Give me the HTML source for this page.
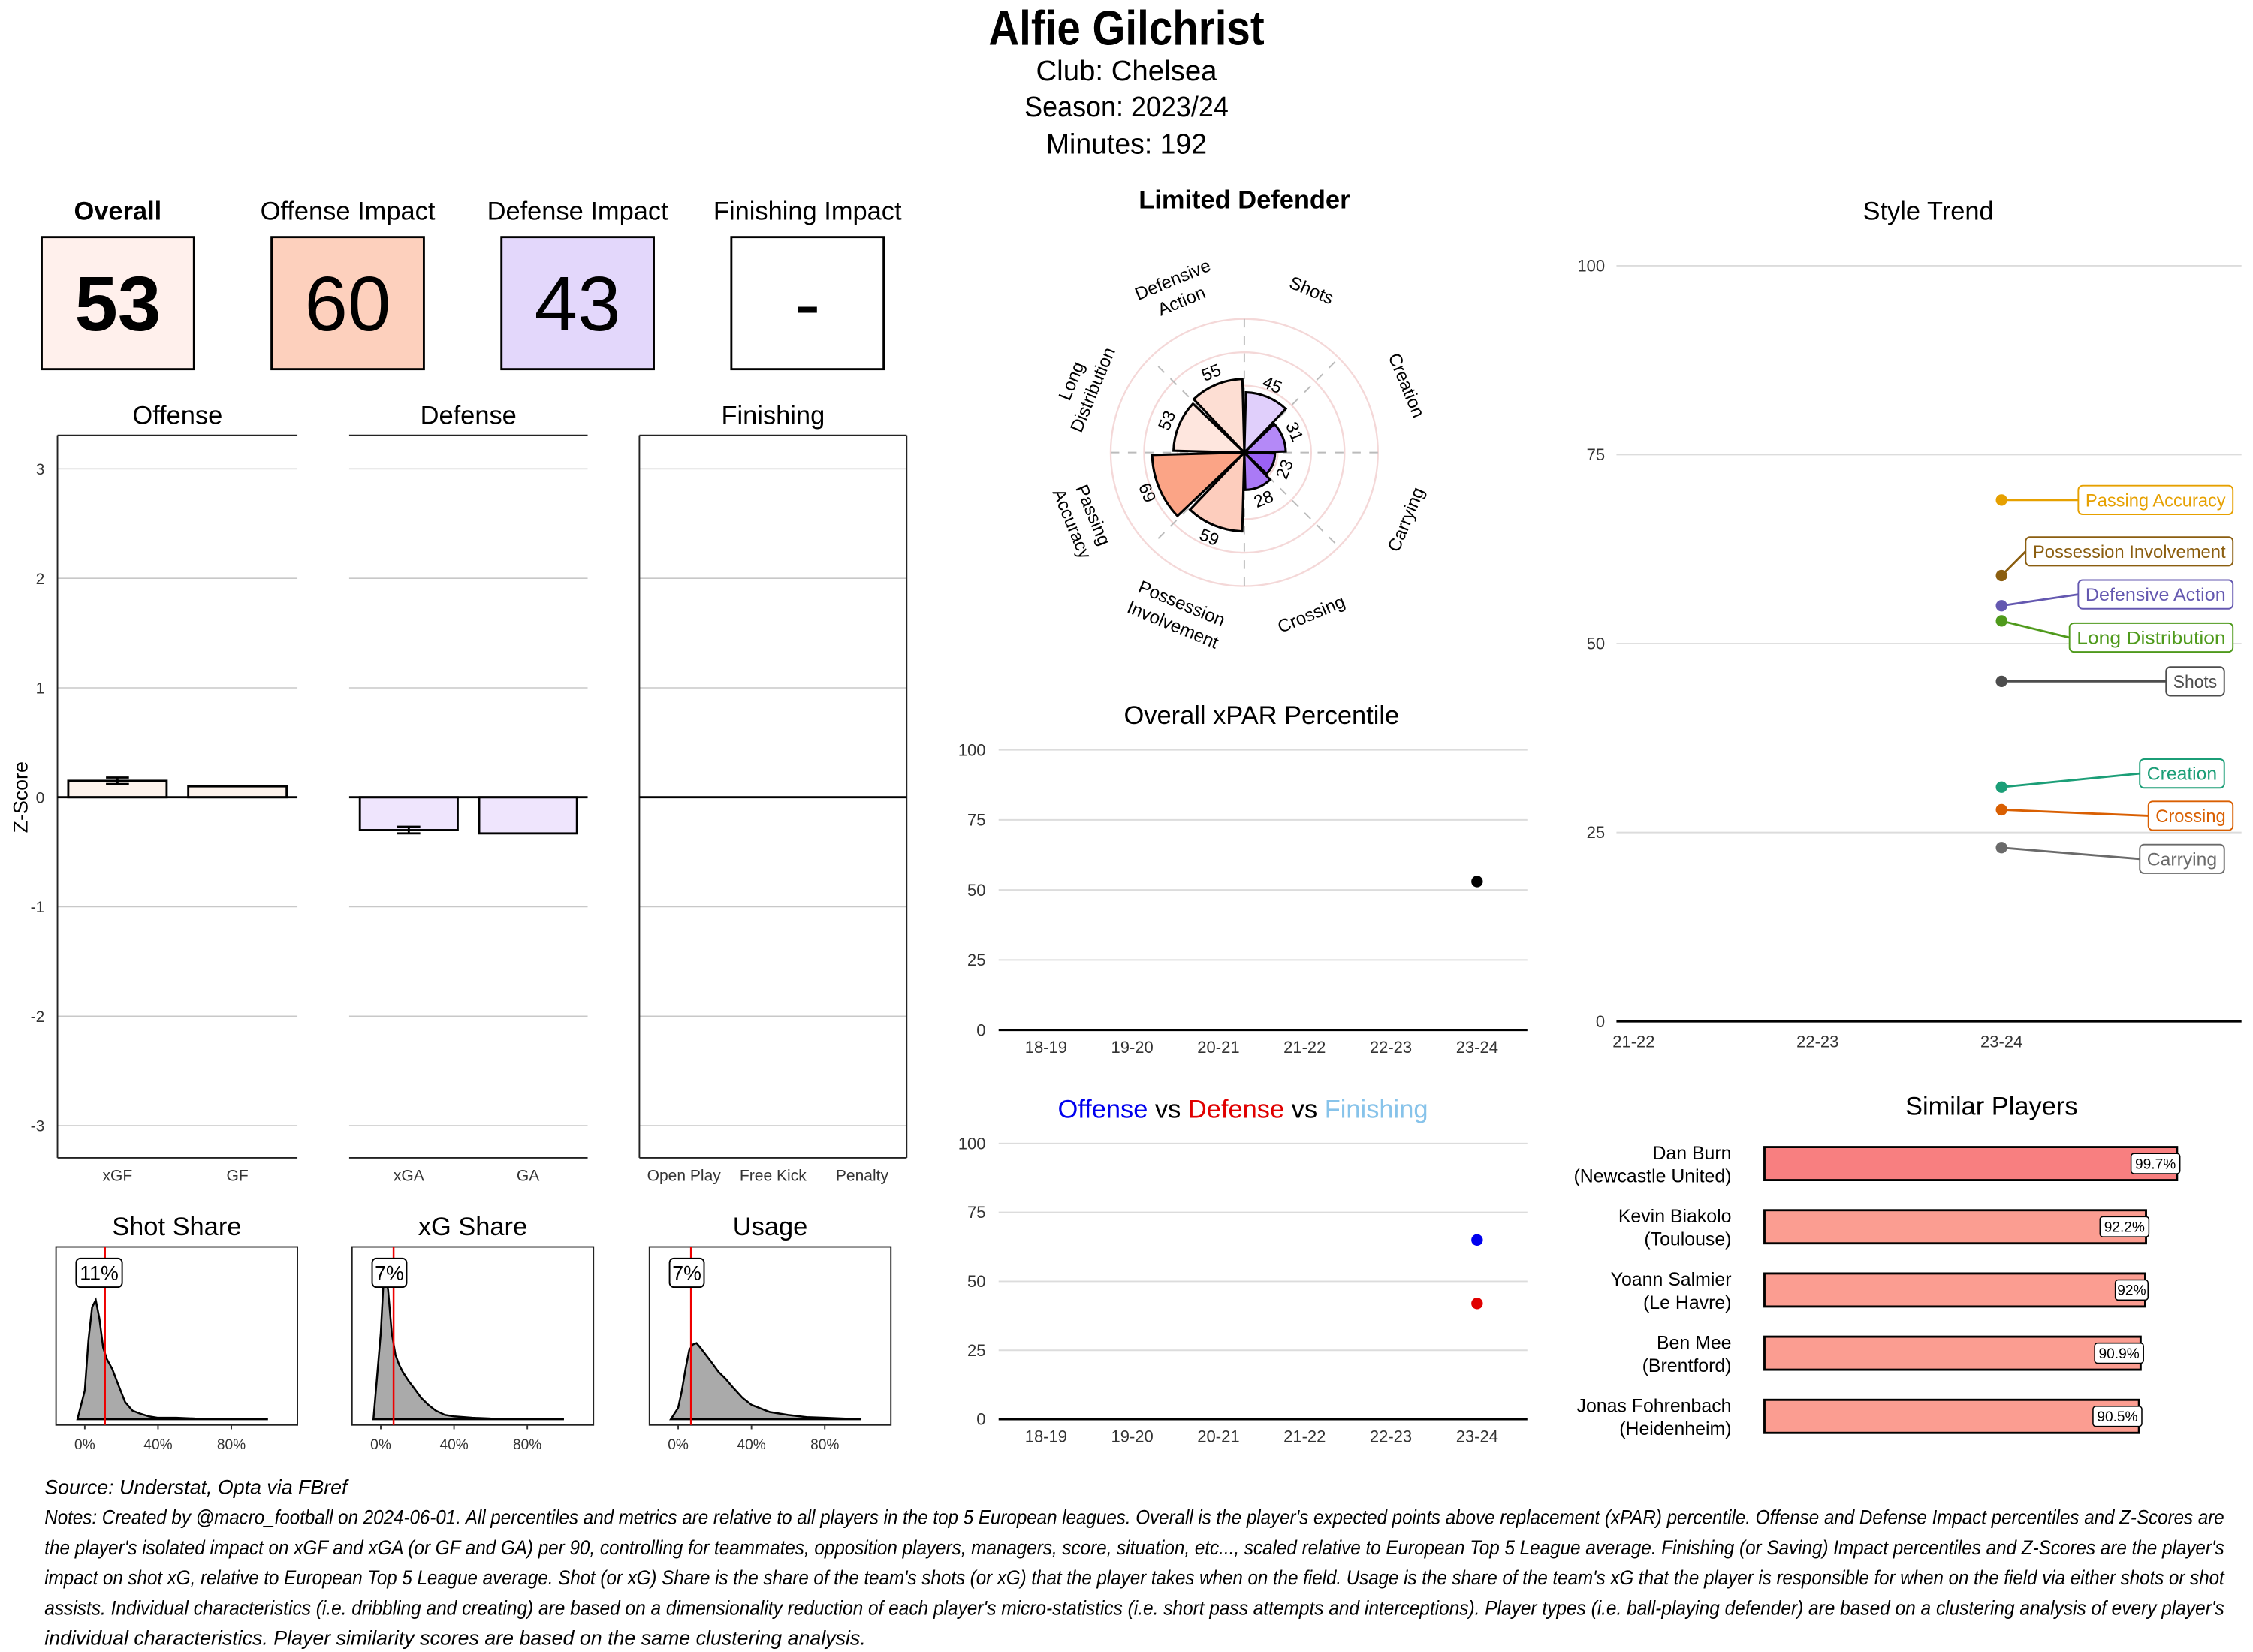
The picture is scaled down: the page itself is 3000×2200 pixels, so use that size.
<!DOCTYPE html>
<html><head><meta charset="utf-8"><style>
html,body{margin:0;padding:0;background:#fff;}
svg{display:block;}
text{font-family:"Liberation Sans Narrow","Liberation Sans",sans-serif;}
</style></head><body>
<svg id="s" xmlns="http://www.w3.org/2000/svg" width="3000" height="2200" viewBox="0 0 1568 1150" preserveAspectRatio="none">
<rect width="1568" height="1150" fill="#fff"/>
<text x="784" y="31" text-anchor="middle" font-size="34" font-weight="bold" fill="#000" textLength="192" lengthAdjust="spacingAndGlyphs">Alfie Gilchrist</text>
<text x="784" y="56" text-anchor="middle" font-size="20" textLength="126" lengthAdjust="spacingAndGlyphs">Club:  Chelsea</text>
<text x="784" y="81" text-anchor="middle" font-size="20" textLength="142" lengthAdjust="spacingAndGlyphs">Season:  2023/24</text>
<text x="784" y="107" text-anchor="middle" font-size="20" textLength="112" lengthAdjust="spacingAndGlyphs">Minutes:  192</text>
<g id="g"></g>
<g font-size="14" font-style="italic" fill="#000">
<text x="31" y="1040">Source: Understat, Opta via FBref</text>
<text x="31" y="1061" textLength="1517" lengthAdjust="spacingAndGlyphs">Notes: Created by @macro_football on 2024-06-01. All percentiles and metrics are relative to all players in the top 5 European leagues. Overall is the player's expected points above replacement (xPAR) percentile. Offense and Defense Impact percentiles and Z-Scores are</text>
<text x="31" y="1082" textLength="1517" lengthAdjust="spacingAndGlyphs">the player's isolated impact on xGF and xGA (or GF and GA) per 90, controlling for teammates, opposition players, managers, score, situation, etc..., scaled relative to European Top 5 League average. Finishing (or Saving) Impact percentiles and Z-Scores are the player's</text>
<text x="31" y="1103" textLength="1517" lengthAdjust="spacingAndGlyphs">impact on shot xG, relative to European Top 5 League average. Shot (or xG) Share is the share of the team's shots (or xG) that the player takes when on the field. Usage is the share of the team's xG that the player is responsible for when on the field via either shots or shot</text>
<text x="31" y="1124" textLength="1517" lengthAdjust="spacingAndGlyphs">assists. Individual characteristics (i.e. dribbling and creating) are based on a dimensionality reduction of each player's micro-statistics (i.e. short pass attempts and interceptions). Player types (i.e. ball-playing defender) are based on a clustering analysis of every player's</text>
<text x="31" y="1145">individual characteristics. Player similarity scores are based on the same clustering analysis.</text>
</g>
</svg>
<script>
// ---- data ----
const impactTitles=["Overall","Offense Impact","Defense Impact","Finishing Impact"];
const impactValues=["53","60","43","-"];
const impactFills=["#fff0ec","#fdd0bd","#e3d7fb","#ffffff"];
const offenseCats=["xGF","GF"];
const offenseVals=[0.15,0.10];
const offenseErr=[0.03,0];
const defenseCats=["xGA","GA"];
const defenseVals=[-0.30,-0.33];
const defenseErr=[0.03,0];
const finishingCats=["Open Play","Free Kick","Penalty"];
const finishingVals=[0,0,0];
const zTicks=[-3,-2,-1,0,1,2,3];
const radarCats=[["Shots"],["Creation"],["Carrying"],["Crossing"],["Possession","Involvement"],["Passing","Accuracy"],["Long","Distribution"],["Defensive","Action"]];
const radarVals=[45,31,23,28,59,69,53,55];
const seasons=["18-19","19-20","20-21","21-22","22-23","23-24"];
const xparVals=[null,null,null,null,null,53];
const offVals=[null,null,null,null,null,65];
const defVals=[null,null,null,null,null,42];
const pctTicks=[0,25,50,75,100];
const trendSeasons=["21-22","22-23","23-24"];
const trendNames=["Passing Accuracy","Possession Involvement","Defensive Action","Long Distribution","Shots","Creation","Crossing","Carrying"];
const trendVals=[69,59,55,53,45,31,28,23];
const trendLabelY=[69,62.2,56.5,50.8,45,32.8,27.2,21.5];
const simNames=[["Dan Burn","(Newcastle United)"],["Kevin Biakolo","(Toulouse)"],["Yoann Salmier","(Le Havre)"],["Ben Mee","(Brentford)"],["Jonas Fohrenbach","(Heidenheim)"]];
const simVals=[99.7,92.2,92,90.9,90.5];
const simLabels=["99.7%","92.2%","92%","90.9%","90.5%"];
const densX=[-4,0,2,4,6,8,10,12,15,18,22,26,30,35,40,50,60,70,80,90,100];
const shotDens=[0,20,55,78,83,70,50,42,35,25,12,6,4,2,1,1,0.5,0.3,0.2,0.2,0];
const xgDens=[0,60,108,90,60,45,38,33,27,22,15,10,6,3,2,1,0.5,0.3,0.2,0.2,0];
const usageDens=[0,8,20,35,48,52,53,50,45,40,33,28,22,15,10,5,3,1.5,1,0.5,0];
const densTitles=["Shot Share","xG Share","Usage"];
const densMarks=[11,7,7];
const densTicks=[0,40,80];

// ---- helpers ----
const NS="http://www.w3.org/2000/svg";
const G=document.getElementById('g');
function el(tag,attrs,parent,txt){const e=document.createElementNS(NS,tag);for(const k in attrs)e.setAttribute(k,attrs[k]);if(txt!==undefined)e.textContent=txt;(parent||G).appendChild(e);return e;}

// ---- impact boxes ----
impactTitles.forEach((t,i)=>{
  const x=29+i*160;
  const tt=el('text',{x:x+53,y:153,'text-anchor':'middle','font-size':18,'font-weight':i===0?'bold':'normal'},G,t);
  
  
  const r=el('rect',{x:x,y:165,width:106,height:92,fill:impactFills[i],stroke:'#000','stroke-width':1.5});
  
  
  const v=el('text',{x:x+53,y:230,'text-anchor':'middle','font-size':54,'font-weight':i===0?'bold':'normal'},G,impactValues[i]);
  
  
});

// ---- z-score panels ----
const zy=v=>555-v*76.2;
zTicks.forEach(t=>{
  const l=el('text',{x:31,y:zy(t)+4,'text-anchor':'end','font-size':11,fill:'#333'},G,t);
  
  
});
const zt=el('text',{x:19,y:555,'text-anchor':'middle','font-size':14,transform:'rotate(-90 19 555)'},G,'Z-Score');


const panels=[
 {title:'Offense',x0:40,x1:207,cats:offenseCats,vals:offenseVals,err:offenseErr,fill:'#fdf3ec',left:true,full:false},
 {title:'Defense',x0:243,x1:409,cats:defenseCats,vals:defenseVals,err:defenseErr,fill:'#efe5fd',left:false,full:false},
 {title:'Finishing',x0:445,x1:631,cats:finishingCats,vals:finishingVals,err:[0,0,0],fill:'#fff',left:true,full:true}];
panels.forEach(p=>{
  const tt=el('text',{x:(p.x0+p.x1)/2,y:295,'text-anchor':'middle','font-size':18},G,p.title);
  
  
  zTicks.forEach(t=>{ if(t!==0) el('line',{x1:p.x0,x2:p.x1,y1:zy(t),y2:zy(t),stroke:'#c8c8c8','stroke-width':0.8}); });
  el('line',{x1:p.x0,x2:p.x1,y1:303,y2:303,stroke:'#222','stroke-width':1});
  el('line',{x1:p.x0,x2:p.x1,y1:806,y2:806,stroke:'#222','stroke-width':1});
  if(p.left) el('line',{x1:p.x0,x2:p.x0,y1:303,y2:806,stroke:'#222','stroke-width':1});
  if(p.full) el('line',{x1:p.x1,x2:p.x1,y1:303,y2:806,stroke:'#222','stroke-width':1});
  const n=p.cats.length, w=(p.x1-p.x0)/n;
  p.cats.forEach((c,i)=>{
    const cx=p.x0+w*(i+0.5);
    const l=el('text',{x:cx,y:822,'text-anchor':'middle','font-size':11,fill:'#333'},G,c);
    
    
    const v=p.vals[i];
    if(v!==0){
      const bw=w*0.82;
      const b=el('rect',{x:cx-bw/2,y:Math.min(zy(v),zy(0)),width:bw,height:Math.abs(zy(v)-zy(0)),fill:p.fill,stroke:'#000','stroke-width':1.5});
      
      
      if(p.err[i]){
        const e=p.err[i];
        el('line',{x1:cx,x2:cx,y1:zy(v-e),y2:zy(v+e),stroke:'#000','stroke-width':1.5});
        el('line',{x1:cx-8,x2:cx+8,y1:zy(v-e),y2:zy(v-e),stroke:'#000','stroke-width':1.5});
        el('line',{x1:cx-8,x2:cx+8,y1:zy(v+e),y2:zy(v+e),stroke:'#000','stroke-width':1.5});
      }
    }
  });
  el('line',{x1:p.x0,x2:p.x1,y1:zy(0),y2:zy(0),stroke:'#000','stroke-width':1.5});
});

// ---- density panels ----
const dens=[shotDens,xgDens,usageDens];
[39,245,452].forEach((bx,k)=>{
  const tt=el('text',{x:bx+84,y:860,'text-anchor':'middle','font-size':18},G,densTitles[k]);
  
  
  el('rect',{x:bx,y:868,width:168,height:124,fill:'#fff',stroke:'#222','stroke-width':1});
  const dx=v=>bx+20+v*1.275, dy=h=>988-h;
  let d='M'+dx(densX[0])+','+dy(0);
  densX.forEach((x,i)=>{d+=' L'+dx(x)+','+dy(dens[k][i]);});
  d+=' L'+dx(densX[densX.length-1])+','+dy(0)+' Z';
  const a=el('path',{d:d,fill:'#aaa',stroke:'#000','stroke-width':1.3});
  
  
  const mx=dx(densMarks[k]);
  el('line',{x1:mx,x2:mx,y1:868,y2:992,stroke:'#e00','stroke-width':1.3});
  const lbl=densMarks[k]+'%';
  const lw=lbl.length*8+8;
  el('rect',{x:bx+14,y:876,width:lw,height:20,rx:3,fill:'#fff',stroke:'#000','stroke-width':1});
  const lt=el('text',{x:bx+14+lw/2,y:891,'text-anchor':'middle','font-size':14},G,lbl);
  
  
  densTicks.forEach(t=>{
    const l=el('text',{x:dx(t),y:1009,'text-anchor':'middle','font-size':10,fill:'#333'},G,t+'%');
    
    
    el('line',{x1:dx(t),x2:dx(t),y1:992,y2:995,stroke:'#333'});
  });
});

// ---- radar ----
const cx=866, cy=315, rs=0.93;
const rt=el('text',{x:866,y:145,'text-anchor':'middle','font-size':18,'font-weight':'bold'},G,'Limited Defender');


[25,50,75,100].forEach(v=>el('circle',{cx:cx,cy:cy,r:v*rs,fill:'none',stroke:'#f4d8d8','stroke-width':1.2}));
const pt=(ang,r)=>[cx+r*Math.sin(ang*Math.PI/180),cy-r*Math.cos(ang*Math.PI/180)];
for(let k=0;k<4;k++){
  const a=k*45, len=(k%2===0)?100:96;
  const [x1,y1]=pt(a,len*rs), [x2,y2]=pt(a+180,len*rs);
  el('line',{x1:x1,y1:y1,x2:x2,y2:y2,stroke:'#bbb','stroke-width':1,'stroke-dasharray':'6,6'});
}
function radColor(v){
  if(v<50){const t=(50-v)/30;return `rgb(${Math.round(240-t*95)},${Math.round(232-t*150)},${Math.round(253-t*10)})`;}
  const t=(v-50)/20;return `rgb(${Math.round(254-t*3)},${Math.round(242-t*82)},${Math.round(238-t*110)})`;
}
radarVals.forEach((v,i)=>{
  const a0=i*45+1.5, a1=i*45+43.5, r=v*rs;
  const [x0,y0]=pt(a0,r), [x1,y1]=pt(a1,r);
  const p=el('path',{d:`M${cx},${cy} L${x0},${y0} A${r},${r} 0 0 1 ${x1},${y1} Z`,fill:radColor(v),stroke:'#000','stroke-width':1.6});
  
  
  const am=i*45+22.5;
  const [lx,ly]=pt(am,r+9);
  const rot=(am>90&&am<270)?am-180:am;
  const t=el('text',{x:lx,y:ly+4,'text-anchor':'middle','font-size':12,transform:`rotate(${rot} ${lx} ${ly})`},G,v);
  
  
  const [cxl,cyl]=pt(am,122);
  const g=el('text',{'text-anchor':'middle','font-size':12.5,transform:`rotate(${rot} ${cxl} ${cyl})`});
  
  
  const lines=radarCats[i];
  lines.forEach((s,j)=>el('tspan',{x:cxl,y:cyl+4+(j-(lines.length-1)/2)*16},g,s));
});

// ---- percentile line charts ----
function pctChart(y0,y100,series,colors){
  const sx=i=>728+i*60, sy=v=>y0-(v/100)*(y0-y100);
  pctTicks.forEach(t=>{
    if(t>0) el('line',{x1:695,x2:1063,y1:sy(t),y2:sy(t),stroke:'#dcdcdc','stroke-width':1});
    const l=el('text',{x:686,y:sy(t)+4,'text-anchor':'end','font-size':11.5,fill:'#333'},G,t);
    
    
  });
  el('line',{x1:695,x2:1063,y1:y0,y2:y0,stroke:'#000','stroke-width':1.5});
  seasons.forEach((s,i)=>{
    const l=el('text',{x:sx(i),y:y0+16,'text-anchor':'middle','font-size':11.5,fill:'#333'},G,s);
    
    
  });
  series.forEach((ser,k)=>ser.forEach((v,i)=>{ if(v!==null){
    const c=el('circle',{cx:sx(i),cy:sy(v),r:4,fill:colors[k]});
    
    
  }}));
}
const t1=el('text',{x:878,y:504,'text-anchor':'middle','font-size':18},G,'Overall xPAR Percentile');


pctChart(717,522,[xparVals],['#000']);
const t2=el('text',{x:865,y:778,'text-anchor':'middle','font-size':18});


el('tspan',{fill:'#0000ee'},t2,'Offense');el('tspan',{fill:'#000'},t2,'   vs   ');el('tspan',{fill:'#e00000'},t2,'Defense');el('tspan',{fill:'#000'},t2,'   vs   ');el('tspan',{fill:'#87c3ea'},t2,'Finishing');
pctChart(988,796,[offVals,defVals],['#0000ee','#e00000']);

// ---- style trend ----
const tx=i=>1137+i*128, ty=v=>711-v*5.26;
const st=el('text',{x:1342,y:153,'text-anchor':'middle','font-size':18},G,'Style Trend');


pctTicks.forEach(t=>{
  if(t>0) el('line',{x1:1125,x2:1560,y1:ty(t),y2:ty(t),stroke:'#dcdcdc','stroke-width':1});
  const l=el('text',{x:1117,y:ty(t)+4,'text-anchor':'end','font-size':11.5,fill:'#333'},G,t);
  
  
});
el('line',{x1:1125,x2:1560,y1:711,y2:711,stroke:'#000','stroke-width':1.5});
trendSeasons.forEach((s,i)=>{
  const l=el('text',{x:tx(i),y:729,'text-anchor':'middle','font-size':11.5,fill:'#333'},G,s);
  
  
});
const trendColors=['#e6a000','#8b5e10','#6458b0','#4f9a1c','#4d4d4d','#1b9e77','#d95f02','#6a6a6a'];
trendNames.forEach((n,i)=>{
  const px=tx(2), py=ty(trendVals[i]), ly=ty(trendLabelY[i]);
  const w=n.length*6.1+10, right=(n==='Shots'||n==='Creation'||n==='Carrying')?1548:1554;
  const bx=right-w;
  el('line',{x1:px,y1:py,x2:bx,y2:ly,stroke:trendColors[i],'stroke-width':1.5});
  const c=el('circle',{cx:px,cy:py,r:4,fill:trendColors[i]});
  
  
  el('rect',{x:bx,y:ly-10,width:w,height:20,rx:3,fill:'#fff',stroke:trendColors[i],'stroke-width':1});
  const t=el('text',{x:bx+w/2,y:ly+4.5,'text-anchor':'middle','font-size':12.5,fill:trendColors[i],'font-family':'Liberation Sans, sans-serif',textLength:w-10,lengthAdjust:'spacingAndGlyphs'},G,n);
  
  
});

// ---- similar players ----
const sp=el('text',{x:1386,y:776,'text-anchor':'middle','font-size':18},G,'Similar Players');


simVals.forEach((v,i)=>{
  const yc=810+i*44, xe=1228+v*2.88;
  const b=el('rect',{x:1228,y:yc-11.5,width:xe-1228,height:23,fill:i===0?'#f87f80':'#fb9d91',stroke:'#000','stroke-width':1.5});
  
  
  const nm=el('text',{'text-anchor':'end','font-size':13});
  
  
  el('tspan',{x:1205,y:yc-3},nm,simNames[i][0]);
  el('tspan',{x:1205,y:yc+13},nm,simNames[i][1]);
  const lw=simLabels[i].length*5.6+6;
  el('rect',{x:xe-lw+2,y:yc-7,width:lw,height:14,rx:2,fill:'#fff',stroke:'#000','stroke-width':0.8});
  const lt=el('text',{x:xe-lw/2+2,y:yc+3.5,'text-anchor':'middle','font-size':10,'font-family':'Liberation Sans, sans-serif'},G,simLabels[i]);
  
  
});
</script>
</body></html>
